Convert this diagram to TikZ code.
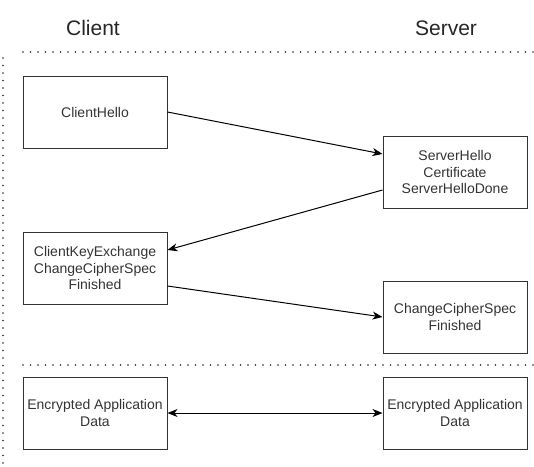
\documentclass[tikz,border=0pt]{standalone}
\usepackage{fontspec}
\setmainfont{Liberation Sans}
\usetikzlibrary{arrows.meta}

\begin{document}
\begin{tikzpicture}[
        x=1pt, y=-1pt,
        >={Stealth[length=10pt,width=8pt,inset=3pt]},
        msg/.style={
            rectangle,
            draw=black!80,
            line width=1pt,
            minimum width=144pt,
            minimum height=72pt,
            align=center,
            text=black!80,
            font=\fontsize{14}{16.5}\selectfont,
            inner sep=0pt
        },
        side/.style={text=black!85, font=\fontsize{21}{24}\selectfont},
        arrow/.style={->, line width=1pt, draw=black},
        sep/.style={line width=1.8pt, dash pattern=on 0pt off 7.5pt, line cap=round, draw=black!85}
    ]

    \useasboundingbox (0,0) rectangle (534,466);

    \node[side] (client) at (93, 28)  {Client};
    \node[side] (server) at (446, 28) {Server};

    \draw[sep] (23,52) -- (534,52);
    \draw[sep] (3,58) -- (3,466);
    \draw[sep] (23,365) -- (534,365);

    \node[msg] (ch)  at (95, 112)  {ClientHello};
    \node[msg] (sh)  at (455, 172) {ServerHello\\Certificate\\ServerHelloDone};
    \node[msg] (cke) at (95, 268)  {ClientKeyExchange\\ChangeCipherSpec\\Finished};
    \node[msg] (ccs) at (455, 317) {ChangeCipherSpec\\Finished};
    \node[msg] (ec)  at (95, 413)  {Encrypted Application\\Data};
    \node[msg] (es)  at (455, 413) {Encrypted Application\\Data};

    \draw[arrow] (ch.east) -- ([yshift=18pt]sh.west);
    \draw[arrow] ([yshift=-18pt]sh.west) -- ([yshift=18pt]cke.east);
    \draw[arrow] ([yshift=-18pt]cke.east) -- (ccs.west);
    \draw[arrow, <->] (ec) -- (es);

    \end{tikzpicture}
\end{document}
